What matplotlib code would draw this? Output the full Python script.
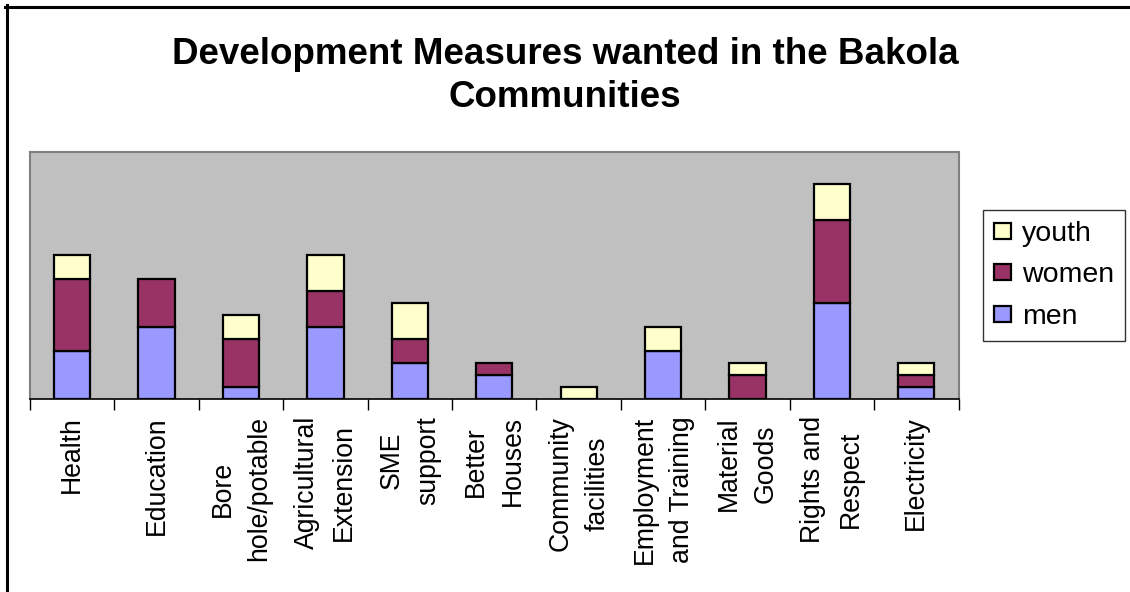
import numpy as np
import matplotlib
matplotlib.use("Agg")
import matplotlib.pyplot as plt
from matplotlib.lines import Line2D

plt.rcParams['font.family'] = ['Liberation Sans', 'DejaVu Sans']

# datos
categorias = ["Health", "Education", "Bore\nhole/potable", "Agricultural\nExtension",
              "SME\nsupport", "Better\nHouses", "Community\nfacilities",
              "Employment\nand Training", "Material\nGoods", "Rights and\nRespect",
              "Electricity"]
men = [4, 6, 1, 6, 3, 2, 0, 4, 0, 8, 1]
women = [6, 4, 4, 3, 2, 1, 0, 0, 2, 7, 1]
youth = [2, 0, 2, 3, 3, 0, 1, 2, 1, 3, 1]

W, H = 1130, 592
fig = plt.figure(figsize=(W / 100, H / 100), dpi=100)
ax = fig.add_axes([30 / W, (H - 399) / H, (958.5 - 30) / W, (399 - 152.5) / H])
ax.set_facecolor('#C0C0C0')

x = np.arange(len(categorias))
ancho = 0.43
men = np.array(men)
women = np.array(women)
youth = np.array(youth)
b1 = ax.bar(x, men, ancho, color='#9999FF', edgecolor='black', linewidth=1.6, label='men')
b2 = ax.bar(x, women, ancho, bottom=men, color='#993366', edgecolor='black', linewidth=1.6, label='women')
b3 = ax.bar(x, youth, ancho, bottom=men + women, color='#FFFFCC', edgecolor='black', linewidth=1.6, label='youth')
# quitar barras de altura cero
for barras, v in [(b1, men), (b2, women), (b3, youth)]:
    for r, val in zip(barras, v):
        if val == 0:
            r.set_visible(False)

ax.set_xlim(-0.5, len(categorias) - 0.5)
ax.set_ylim(0, 20.6)
ax.set_yticks([])
ax.set_xticks(np.arange(len(categorias) + 1) - 0.5)
ax.set_xticklabels([])
ax.tick_params(axis='x', length=8, width=1, color='black', direction='out')
for s in ['top', 'right', 'left']:
    ax.spines[s].set_color('#808080')
    ax.spines[s].set_linewidth(1.5)
ax.spines['bottom'].set_color('black')
ax.spines['bottom'].set_linewidth(1.2)

for i, nombre in enumerate(categorias):
    ax.text(i, -17 / 11.9, nombre, rotation=90, ha='center', va='top',
            multialignment='center', fontsize=19.2, linespacing=1.55,
            transform=ax.transData)

fig.text(0.5, 1 - 76 / H, "Development Measures wanted in the Bakola\nCommunities",
         ha='center', va='center', fontsize=26.5, fontweight='bold', linespacing=1.3)

ley = fig.legend(handles=[b3, b2, b1], labels=['youth', 'women', 'men'],
                 loc='upper left', bbox_to_anchor=(983 / W, 1 - 210 / H),
                 fontsize=20.5, frameon=True, fancybox=False, edgecolor='black',
                 handlelength=0.6, handleheight=0.5, handletextpad=0.38,
                 labelspacing=0.55, borderpad=0.38, borderaxespad=0)
ley.get_frame().set_linewidth(1.0)

fig.add_artist(Line2D([5 / W, 1], [1 - 6.5 / H, 1 - 6.5 / H], color='black', linewidth=2.2))
fig.add_artist(Line2D([6.5 / W, 6.5 / W], [0, 1 - 5 / H], color='black', linewidth=2.2))

fig.savefig('out.png', dpi=100)
